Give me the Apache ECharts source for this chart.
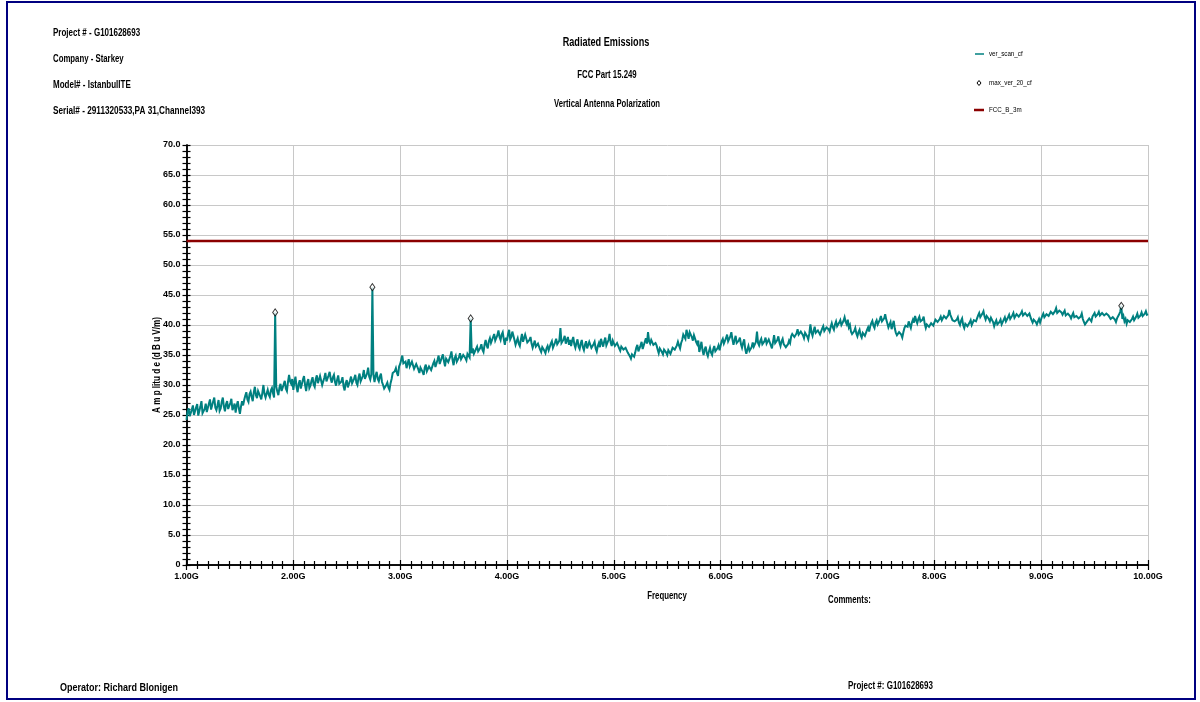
<!DOCTYPE html>
<html>
<head>
<meta charset="utf-8">
<title>Radiated Emissions</title>
<script src="https://cdn.jsdelivr.net/npm/echarts@6/dist/echarts.min.js"></script>
<style>
  html, body { margin: 0; padding: 0; background: #ffffff; }
  #chart { width: 1200px; height: 702px; }
</style>
</head>
<body>
<div id="chart"></div>
<script>
// Sweep: 1.00 GHz to 10.00 GHz, one reading every 0.01 GHz (dBuV/m)
const scanStart = 1.0;
const scanStep = 0.01;
const scanLevels = [
  24.2, 25.6, 26.1, 24.8, 24.6, 25.9, 26.6, 25.0, 24.9, 26.3, 26.8, 24.9, 25.1, 26.4, 27.3, 25.3, 25.2, 26.0, 26.9, 25.5,
  25.6, 26.9, 27.6, 25.9, 26.0, 27.3, 27.9, 26.2, 25.8, 26.6, 27.5, 25.7, 26.1, 27.2, 27.9, 26.4, 25.6, 26.8, 27.3, 26.0,
  25.7, 27.0, 27.7, 25.8, 26.3, 26.9, 25.4, 26.6, 27.3, 26.1, 25.2, 26.4, 27.3, 26.6, 27.5, 28.2, 28.8, 27.6, 27.2, 28.5,
  28.9, 28.0, 27.3, 28.8, 29.7, 28.3, 27.8, 29.0, 29.3, 28.1, 27.6, 28.7, 30.0, 28.5, 27.9, 28.6, 29.2, 28.4, 28.0, 29.1,
  29.5, 28.6, 27.9, 42.1, 29.7, 28.9, 28.3, 29.6, 30.2, 29.0, 28.8, 30.1, 30.7, 29.4, 29.0, 30.5, 31.7, 30.6, 30.2, 31.0,
  29.2, 30.5, 31.4, 29.7, 28.8, 30.2, 30.8, 29.4, 29.6, 30.9, 31.5, 30.0, 29.0, 30.4, 31.0, 29.5, 29.9, 30.7, 31.3, 30.1,
  29.7, 31.0, 31.6, 30.3, 30.1, 31.5, 31.3, 30.0, 30.3, 31.2, 32.0, 30.6, 30.7, 31.6, 32.2, 31.0, 30.4, 31.3, 31.7, 30.5,
  29.9, 30.9, 31.6, 30.2, 29.9, 30.6, 31.3, 29.8, 29.1, 30.3, 30.8, 29.6, 29.4, 30.7, 31.4, 30.3, 30.1, 31.1, 31.7, 30.4,
  30.0, 31.2, 31.9, 30.6, 30.4, 31.5, 32.5, 31.0, 30.8, 31.9, 32.9, 31.4, 30.9, 31.8, 46.3, 31.7, 30.5, 31.6, 32.2, 31.0,
  30.6, 31.4, 31.9, 30.5, 30.0, 29.4, 29.1, 30.0, 30.4, 29.6, 29.2, 30.3, 31.0, 32.0, 31.9, 32.3, 32.8, 32.0, 31.5, 33.1,
  33.5, 34.2, 34.9, 33.6, 33.4, 33.9, 32.8, 33.6, 34.3, 33.1, 32.8, 33.9, 33.7, 32.7, 32.4, 33.5, 33.4, 32.6, 32.0, 32.9,
  33.0, 32.2, 31.7, 32.9, 33.4, 32.3, 32.0, 33.1, 33.4, 32.5, 32.6, 33.6, 34.0, 33.0, 33.1, 34.2, 34.9, 33.5, 33.8, 34.6,
  35.1, 34.0, 33.1, 34.4, 34.7, 33.8, 33.5, 34.8, 35.6, 34.2, 33.3, 34.5, 34.9, 33.9, 33.7, 34.6, 35.3, 34.3, 34.0, 35.0,
  35.1, 34.5, 34.1, 35.2, 35.5, 34.6, 41.1, 35.3, 36.1, 35.2, 34.9, 36.0, 36.4, 35.6, 35.3, 36.2, 36.8, 35.9, 35.5, 36.7,
  37.5, 36.6, 36.1, 37.3, 37.8, 37.0, 36.8, 38.0, 38.5, 37.4, 37.1, 38.3, 39.1, 38.0, 37.5, 38.4, 38.8, 37.6, 36.7, 37.9,
  37.4, 38.5, 39.2, 37.6, 38.0, 38.9, 38.7, 37.5, 36.7, 37.3, 37.8, 36.9, 36.5, 37.6, 38.5, 37.2, 37.4, 38.4, 38.3, 37.1,
  36.8, 37.5, 38.0, 36.9, 36.2, 36.8, 37.4, 36.4, 36.1, 36.9, 37.1, 35.9, 35.5, 36.3, 36.6, 35.7, 35.3, 36.1, 36.5, 35.8,
  36.0, 36.9, 37.3, 36.2, 36.4, 37.1, 37.7, 36.8, 36.6, 37.4, 39.5, 37.0, 36.8, 37.6, 38.2, 36.9, 37.2, 38.0, 36.7, 37.5,
  36.5, 37.4, 38.0, 36.8, 36.2, 37.0, 37.6, 36.4, 36.0, 36.9, 37.5, 36.3, 35.8, 36.7, 37.3, 36.1, 36.4, 37.2, 37.0, 36.2,
  35.9, 36.8, 37.2, 36.1, 35.6, 36.5, 37.0, 36.3, 37.7, 37.0, 36.4, 37.3, 37.9, 36.6, 36.8, 37.5, 38.5, 37.1, 36.5, 37.4,
  37.3, 36.5, 36.2, 37.0, 37.3, 36.1, 35.7, 36.4, 36.7, 35.9, 35.7, 36.2, 36.5, 35.4, 35.1, 34.8, 34.4, 35.1, 35.3, 34.7,
  35.4, 36.2, 36.7, 35.6, 35.8, 36.6, 37.2, 36.0, 36.3, 37.2, 37.8, 36.9, 38.8, 37.3, 36.9, 37.5, 37.6, 36.7, 36.4, 37.0,
  36.6, 35.9, 35.3, 36.1, 36.4, 35.5, 35.1, 35.9, 36.2, 35.4, 35.0, 35.8, 36.0, 35.2, 35.5, 36.2, 36.5, 35.9, 35.7, 36.6,
  37.2, 36.6, 36.1, 37.0, 37.5, 38.4, 38.2, 37.7, 39.2, 38.5, 37.7, 38.8, 39.1, 38.0, 37.4, 38.3, 38.0, 37.2, 36.8, 37.4,
  35.5, 36.3, 37.2, 35.8, 35.0, 35.9, 36.4, 35.3, 34.8, 35.6, 36.2, 35.4, 35.0, 35.9, 36.5, 35.6, 35.3, 36.1, 36.6, 35.8,
  36.6, 37.3, 37.7, 36.9, 37.1, 37.8, 38.4, 37.3, 37.4, 38.1, 38.8, 37.6, 36.7, 37.5, 38.2, 37.0, 36.7, 37.4, 37.9, 36.8,
  36.2, 37.0, 37.6, 36.0, 35.2, 35.9, 36.5, 35.7, 35.4, 36.3, 37.1, 36.4, 36.2, 37.2, 38.9, 37.0, 36.6, 37.3, 37.7, 36.8,
  36.5, 37.3, 37.9, 36.9, 36.7, 37.6, 37.4, 36.6, 36.1, 37.2, 38.3, 37.0, 36.8, 37.5, 38.1, 37.1, 36.5, 37.3, 37.7, 36.8,
  36.9, 36.3, 36.0, 36.8, 37.4, 37.0, 38.1, 38.5, 38.8, 38.0, 37.8, 38.6, 39.3, 38.4, 38.2, 38.9, 39.1, 38.3, 37.8, 38.7,
  38.9, 38.1, 37.6, 38.6, 40.1, 38.8, 38.2, 39.0, 39.7, 38.7, 38.4, 39.1, 39.3, 38.4, 38.5, 39.4, 39.8, 39.0, 38.8, 39.6,
  39.8, 39.3, 38.9, 39.7, 40.3, 39.6, 39.2, 40.1, 40.6, 39.8, 39.5, 40.4, 40.8, 40.0, 39.8, 40.7, 41.3, 40.5, 40.1, 40.9,
  39.6, 40.0, 38.9, 38.5, 38.2, 39.0, 39.5, 38.6, 38.1, 38.8, 39.2, 38.3, 37.9, 38.7, 39.0, 38.2, 38.4, 39.2, 39.6, 38.9,
  39.8, 40.3, 40.7, 39.9, 39.5, 40.4, 40.8, 40.1, 40.0, 40.9, 41.5, 40.6, 40.3, 41.1, 41.8, 40.9, 40.3, 39.6, 39.8, 40.5,
  39.3, 40.0, 40.7, 39.4, 38.7, 38.3, 38.0, 38.8, 39.1, 38.4, 37.9, 38.8, 39.5, 39.9, 40.2, 39.7, 40.6, 40.0, 39.5, 40.4,
  40.9, 40.4, 41.5, 40.8, 40.3, 41.0, 41.4, 40.6, 40.4, 40.9, 41.4, 40.2, 39.5, 40.1, 40.3, 39.7, 39.6, 40.3, 40.5, 39.9,
  40.2, 40.9, 41.2, 40.5, 40.3, 41.0, 41.4, 40.8, 40.7, 41.5, 41.8, 41.1, 40.9, 41.6, 42.5, 41.7, 41.5, 40.8, 41.0, 40.6,
  40.3, 40.9, 41.3, 40.4, 40.0, 40.7, 41.1, 40.0, 39.5, 40.2, 40.5, 39.8, 39.6, 40.4, 40.8, 40.0, 40.1, 40.8, 41.1, 40.6,
  41.1, 41.6, 42.0, 41.3, 41.2, 41.9, 42.3, 41.4, 40.9, 41.5, 41.8, 41.0, 40.6, 41.2, 41.5, 40.5, 39.8, 40.4, 40.8, 40.1,
  39.8, 40.5, 40.9, 40.1, 40.2, 40.9, 41.3, 40.6, 40.6, 41.3, 41.7, 41.0, 40.9, 41.6, 42.0, 41.2, 41.1, 41.8, 42.1, 41.4,
  41.3, 41.9, 42.3, 41.6, 41.5, 42.0, 42.3, 41.5, 41.4, 41.9, 41.3, 40.8, 40.4, 40.9, 41.1, 40.5, 40.1, 40.6, 41.0, 40.4,
  41.0, 41.5, 41.9, 41.3, 41.2, 41.8, 42.1, 41.5, 41.6, 42.2, 42.5, 41.8, 41.7, 42.3, 42.8, 42.0, 41.9, 42.4, 42.7, 42.1,
  41.7, 42.0, 42.4, 41.6, 41.4, 41.9, 42.2, 41.5, 41.1, 41.6, 42.0, 41.3, 41.0, 41.5, 41.8, 41.1, 40.8, 41.4, 41.9, 41.0,
  40.5, 40.1, 39.9, 40.6, 40.5, 41.1, 41.0, 40.6, 41.4, 41.7, 42.0, 41.4, 41.1, 41.8, 42.2, 41.6, 41.4, 42.0, 42.3, 41.6,
  41.3, 41.9, 42.2, 41.6, 41.4, 41.0, 40.9, 41.3, 41.5, 40.9, 40.5, 41.1, 41.4, 41.8, 42.2, 43.2, 41.0, 41.5, 40.6, 41.0,
  40.2, 40.8, 41.1, 40.5, 40.3, 41.0, 41.4, 40.8, 40.7, 41.4, 41.9, 41.2, 40.9, 41.6, 42.1, 41.5, 41.2, 41.9, 42.3, 41.7,
  41.8
];

// Maximised readings (GHz, dBuV/m); the scan trace reaches the same levels
const peakFreqs = [1.83, 2.74, 3.66, 9.75];
const peakLevels = [42.1, 46.3, 41.1, 43.2];

// FCC Class B limit at 3 m
const limitFreqs = [1.0, 10.0];
const limitLevels = [54.0, 54.0];

// Axis ranges
const freqMin = 1, freqMax = 10, freqInterval = 1;
const ampMin = 0, ampMax = 70, ampInterval = 5;

const headerLines = [
  'Project # - G101628693',
  'Company - Starkey',
  'Model# - IstanbulITE',
  'Serial# - 2911320533,PA 31,Channel393'
];
const titleLines = ['Radiated Emissions', 'FCC Part 15.249', 'Vertical Antenna Polarization'];
const legendNames = ['ver_scan_cf', 'max_ver_20_cf', 'FCC_B_3m'];
const xAxisTitle = 'Frequency';
const yAxisTitle = 'A m p litu d e (d B u V/m)';

const TEAL = '#008080';
const LIMIT = '#8b0000';
const NAVY = '#000080';
const FONT = '"Liberation Sans", Arial, sans-serif';

const scanPoints = scanLevels.map((v, i) => [Number((scanStart + i * scanStep).toFixed(3)), v]);
const peakPoints = peakFreqs.map((f, i) => [f, peakLevels[i]]);
const limitPoints = limitFreqs.map((f, i) => [f, limitLevels[i]]);

const chart = echarts.init(document.getElementById('chart'), null, { renderer: 'canvas' });

const grid = { left: 186.5, right: 52, top: 145, bottom: 137, containLabel: false };

// Two copies of each axis: one with outward ticks and labels, one with inward
// ticks, so the tick marks cross the axis line.
function xAxisDef(primary) {
  return {
    type: 'value', position: 'bottom', min: freqMin, max: freqMax, interval: freqInterval,
    axisLine: { show: true, onZero: false, lineStyle: { color: '#000', width: 1.5 } },
    axisTick: { show: true, inside: !primary, length: 5, lineStyle: { color: '#000', width: 1.2 } },
    minorTick: { show: true, splitNumber: 10, length: 4, lineStyle: { color: '#000', width: 1.2 } },
    axisLabel: {
      show: primary, margin: 7, fontFamily: FONT, fontWeight: 'bold', fontSize: 9, color: '#000',
      formatter: v => v.toFixed(2) + 'G'
    },
    splitLine: { show: primary, lineStyle: { color: '#c8c8c8', width: 1 } },
    minorSplitLine: { show: false }
  };
}

function yAxisDef(primary) {
  return {
    type: 'value', position: 'left', min: ampMin, max: ampMax, interval: ampInterval,
    axisLine: { show: true, onZero: false, lineStyle: { color: '#000', width: 1.5 } },
    axisTick: { show: true, inside: !primary, length: 4, lineStyle: { color: '#000', width: 1.2 } },
    minorTick: { show: true, splitNumber: 5, length: 4, lineStyle: { color: '#000', width: 1.2 } },
    axisLabel: {
      show: primary, margin: 6, fontFamily: FONT, fontWeight: 'bold', fontSize: 9, color: '#000',
      formatter: v => (v === 0 ? '0' : v.toFixed(1))
    },
    splitLine: { show: primary, lineStyle: { color: '#c8c8c8', width: 1 } },
    minorSplitLine: { show: false }
  };
}

// Condensed bold caption text (horizontally squeezed around its anchor)
function label(text, x, y, size, opts) {
  const o = opts || {};
  const align = o.align || 'left';
  return {
    type: 'text', x: x, y: y, silent: true,
    scaleX: o.squeeze || 0.8, rotation: o.rotation || 0,
    style: {
      text: text, fill: '#000', font: (o.weight || 'bold') + ' ' + size + 'px ' + FONT,
      textAlign: align, align: align,
      textVerticalAlign: 'middle', verticalAlign: 'middle'
    }
  };
}

const graphics = [
  // page frame
  { type: 'rect', silent: true, shape: { x: 7, y: 2, width: 1188, height: 697 },
    style: { fill: 'none', stroke: NAVY, lineWidth: 2 } },
  // header block
  label(headerLines[0], 53, 33, 10),
  label(headerLines[1], 53, 59, 10, { squeeze: 0.78 }),
  label(headerLines[2], 53, 85, 10),
  label(headerLines[3], 53, 111, 10, { squeeze: 0.82 }),
  // titles
  label(titleLines[0], 606, 43, 12, { align: 'center', squeeze: 0.76 }),
  label(titleLines[1], 607, 75, 10, { align: 'center', squeeze: 0.78 }),
  label(titleLines[2], 607, 104, 10, { align: 'center', squeeze: 0.77 }),
  // legend
  { type: 'line', silent: true, shape: { x1: 975, y1: 54, x2: 984, y2: 54 },
    style: { stroke: TEAL, lineWidth: 1.5 } },
  label(legendNames[0], 989, 54, 8, { weight: 'normal', squeeze: 0.78 }),
  { type: 'polygon', silent: true, shape: { points: [[979, 80.5], [981, 83], [979, 85.5], [977, 83]] },
    style: { fill: '#fff', stroke: '#000', lineWidth: 1 } },
  label(legendNames[1], 989, 83, 8, { weight: 'normal', squeeze: 0.78 }),
  { type: 'line', silent: true, shape: { x1: 974, y1: 110, x2: 984, y2: 110 },
    style: { stroke: LIMIT, lineWidth: 2.5 } },
  label(legendNames[2], 989, 110, 8, { weight: 'normal', squeeze: 0.78 }),
  // axis titles
  label(xAxisTitle, 667, 596, 10, { align: 'center', squeeze: 0.78 }),
  label(yAxisTitle, 157, 365, 10, { align: 'center', squeeze: 0.81, rotation: Math.PI / 2 }),
  // footer
  label('Comments:', 828, 600, 10, { squeeze: 0.78 }),
  label('Operator: Richard Blonigen', 60, 688, 10, { squeeze: 0.9 }),
  label('Project #: G101628693', 848, 686, 10, { squeeze: 0.8 })
];

chart.setOption({
  animation: false,
  backgroundColor: '#ffffff',
  grid: grid,
  xAxis: [xAxisDef(true), xAxisDef(false)],
  yAxis: [yAxisDef(true), yAxisDef(false)],
  graphic: graphics,
  series: [
    {
      name: legendNames[0], type: 'line', data: scanPoints, showSymbol: false,
      sampling: null, lineStyle: { color: TEAL, width: 2, join: 'miter', miterLimit: 4 },
      itemStyle: { color: TEAL }, z: 3, silent: true
    },
    {
      name: legendNames[2], type: 'line', data: limitPoints, showSymbol: false,
      lineStyle: { color: LIMIT, width: 2.5 }, itemStyle: { color: LIMIT },
      z: 4, silent: true
    },
    {
      name: legendNames[1], type: 'scatter', data: peakPoints, symbol: 'diamond', symbolSize: [5, 7],
      itemStyle: { color: '#fff', borderColor: '#000', borderWidth: 1 },
      z: 5, silent: true
    }
  ]
});
</script>
</body>
</html>
